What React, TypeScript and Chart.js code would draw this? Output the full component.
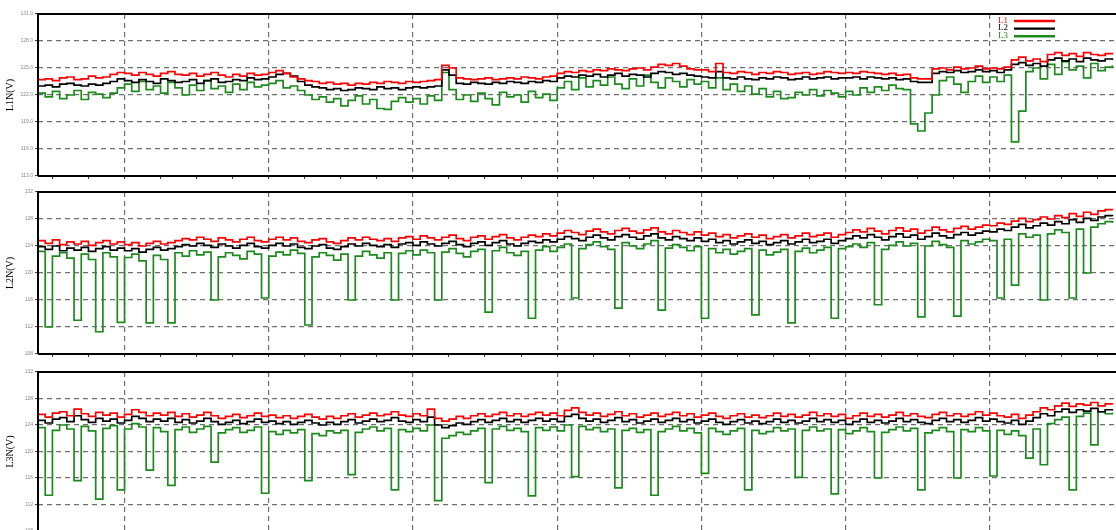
import React, { useEffect, useRef } from "react";
import { Chart, registerables } from "chart.js";

Chart.register(...registerables);

const LEGEND_LABELS = ["L1", "L2", "L3"];
const PANEL_TITLES = ["L1N(V)", "L2N(V)", "L3N(V)"];
const L1N_TICKS = [113, 116, 119, 122, 125, 128, 131];
const L2N_TICKS = [108, 112, 116, 120, 124, 128, 132];
const L3N_TICKS = [108, 112, 116, 120, 124, 128, 132];
const X_TICKS = [2, 7, 12, 17, 22, 27, 32, 37, 42, 47, 52, 57, 62, 67, 72, 77, 82, 87, 92, 97, 102, 107, 112, 117, 122, 127, 132, 137, 142, 147];
const X_MAJOR = [12, 32, 52, 72, 92, 112, 132];
const X_MAX = 149.5;

// ---------- L1N(V) ----------
const L1N_L1 = [
  123.7, 123.8, 123.6, 123.9, 124.0, 123.7, 123.8, 124.1, 123.9, 124.0, 124.3, 124.5,
  124.4, 124.2, 124.5, 124.3, 124.1, 124.4, 124.6, 124.3, 124.2, 124.4, 124.1, 124.3, 124.5, 124.2, 124.0, 124.3, 124.1, 124.4, 124.2, 124.3,
  124.5, 124.7, 124.4, 124.0, 123.8, 123.6, 123.5, 123.3, 123.4, 123.2, 123.3, 123.1, 123.3, 123.2, 123.4, 123.3, 123.5, 123.4, 123.3, 123.5,
  123.4, 123.5, 123.6, 123.7, 125.3, 125.0, 123.9, 123.8, 123.7, 123.8, 123.9, 123.7, 123.8, 123.9, 123.8, 124.0, 123.9, 123.8, 124.0, 124.1,
  124.4, 124.6, 124.5, 124.7, 124.6, 124.8, 124.7, 124.9, 124.8, 124.7, 124.9, 125.0, 124.8, 125.1, 125.4, 125.3, 125.5, 125.2, 124.9, 124.8,
  124.8, 124.6, 125.5, 124.5, 124.4, 124.6, 124.5, 124.3, 124.5, 124.4, 124.6, 124.5, 124.3, 124.4, 124.5, 124.3, 124.4, 124.6, 124.5, 124.4,
  124.5, 124.4, 124.6, 124.5, 124.4, 124.3, 124.4, 124.2, 124.3, 123.9, 123.8, 123.8, 124.9, 125.0, 124.8, 125.1, 124.9, 125.0, 125.2, 124.9,
  125.0, 124.9, 125.1, 125.9, 126.2, 125.8, 126.0, 125.7, 126.5, 126.7, 126.4, 126.6, 126.3, 126.7, 126.5, 126.4, 126.6, 126.5,
];
const L1N_L2 = [
  123.0, 123.1, 122.9, 123.2, 123.3, 123.1, 123.0, 123.2, 123.1, 123.3, 123.5, 123.8,
  123.6, 123.4, 123.7, 123.5, 123.3, 123.8, 123.6, 123.4, 123.5, 123.7, 123.3, 123.6, 123.8, 123.4, 123.5, 123.7, 123.6, 123.9, 123.7, 123.8,
  124.0, 124.3, 124.4, 124.1, 123.5, 123.1, 122.9, 122.8, 122.6, 122.7, 122.5, 122.6, 122.8, 122.7, 122.6, 122.9, 122.7, 122.8, 122.6, 122.8,
  122.9, 122.8, 122.9, 123.0, 124.8, 124.2, 123.3, 123.2, 123.4, 123.3, 123.2, 123.4, 123.3, 123.5, 123.4, 123.3, 123.5, 123.4, 123.6, 123.5,
  123.9, 124.1, 124.0, 124.2, 124.1, 124.3, 124.0, 124.2, 124.4, 124.1, 124.3, 124.2, 124.0, 124.4, 124.6, 124.5, 124.3, 124.4, 124.2, 124.1,
  124.0, 123.9, 124.6, 123.9, 123.8, 124.0, 123.8, 123.7, 123.9, 123.8, 124.0, 123.9, 123.7, 123.8, 124.0, 123.8, 123.9, 124.0, 123.8, 123.9,
  123.9, 124.0, 123.8, 124.0, 123.9, 123.8, 123.9, 123.7, 123.8, 123.5, 123.4, 123.4, 124.4, 124.6, 124.5, 124.7, 124.5, 124.6, 124.8, 124.6,
  124.7, 124.5, 124.8, 125.4, 125.6, 125.3, 125.5, 125.2, 125.9, 126.1, 125.8, 126.0, 125.7, 126.1, 125.9, 125.8, 126.0, 125.9,
];
const L1N_L3 = [
  122.2, 121.8, 122.4, 121.6, 122.0, 122.5, 121.5, 122.3, 122.1, 121.7, 122.2, 122.8,
  123.2, 122.4, 123.5, 122.6, 123.0, 122.2, 123.4, 122.8, 122.0, 123.1, 122.5, 123.6, 122.7, 123.0, 122.3, 123.2, 122.6, 123.4, 122.9, 123.1,
  123.3, 123.6, 122.8, 123.0, 122.5, 122.0, 121.5, 121.8, 121.2, 121.6, 120.8, 121.4, 121.9, 121.0, 121.5, 120.5, 120.4, 121.3, 121.7, 121.2,
  121.6, 121.0, 121.9, 121.4, 124.5, 122.6, 121.5, 122.0, 121.3, 122.2, 121.6, 120.9, 122.3, 121.8, 122.0, 121.2, 122.4, 121.7, 122.1, 121.4,
  122.8, 123.5, 122.6, 123.9, 122.9, 123.6, 123.1, 124.0, 123.2, 122.7, 123.8, 123.0, 124.2, 123.4, 122.8, 123.9, 123.5, 122.9, 123.7, 123.2,
  123.5, 122.8, 123.9, 122.6, 123.2, 122.4, 123.0, 122.1, 122.7, 121.8, 122.4, 121.6, 121.7, 122.3, 122.0, 122.6, 121.9, 122.5, 122.2, 121.8,
  122.4, 122.0, 122.8, 122.3, 122.9, 122.5, 123.1, 122.7, 122.6, 118.8, 118.0, 120.0, 122.0, 123.6, 124.0, 123.2, 122.3, 123.5, 124.1, 123.4,
  124.0, 123.5, 124.2, 116.8, 120.2, 124.6, 125.0, 123.8, 125.4, 124.3, 125.7, 124.8, 125.2, 123.9, 125.5, 124.7, 125.1, 125.3,
];

// ---------- L2N(V) ----------
const L2N_L1 = [
  124.8, 124.4, 124.9, 124.2, 124.6, 124.3, 124.7, 124.1, 124.5, 124.8, 124.3, 124.6,
  124.2, 124.5, 124.0, 124.4, 124.7, 124.3, 124.5, 124.8, 125.1, 124.9, 125.3, 125.0, 124.7, 125.2, 124.9, 124.6, 125.0, 125.3, 124.8, 124.6,
  125.0, 125.3, 124.9, 125.2, 124.7, 124.5, 124.9, 125.1, 124.6, 124.4, 124.8, 125.2, 124.9, 125.3, 125.0, 124.8, 125.1, 124.7, 125.2, 125.4,
  125.0, 125.5, 125.2, 124.9, 125.3, 125.6, 125.1, 124.8, 125.3, 125.5, 125.0, 125.4, 125.7, 125.2, 124.9, 125.3, 125.6, 125.4, 125.8, 125.5,
  125.9, 126.3, 126.0, 125.7, 126.2, 126.5, 126.1, 125.8, 126.3, 126.6, 126.2, 125.9, 126.4, 126.7, 126.1, 125.8, 126.3, 126.0, 125.7, 126.1,
  125.6, 125.9, 125.4, 125.7, 125.2, 125.5, 125.8, 125.3, 125.6, 125.1, 125.4, 125.7, 125.2, 125.5, 125.9, 125.4, 125.6, 125.9, 125.3, 125.7,
  126.0, 126.4, 126.1, 126.6, 126.2, 125.8, 126.3, 126.7, 126.2, 126.5, 125.9, 126.3, 126.8, 126.4, 126.1, 126.6, 126.9, 126.5, 126.8, 127.1,
  127.0, 127.4, 127.2, 127.7, 128.1, 127.6, 127.9, 128.3, 128.0, 128.5, 128.2, 128.8, 128.4, 129.0, 128.7, 129.2, 129.4, 129.3,
];
const L2N_L2 = [
  123.9, 123.5, 124.0, 123.3, 123.7, 123.4, 123.8, 123.2, 123.6, 123.9, 123.4, 123.7,
  123.3, 123.6, 123.1, 123.5, 123.8, 123.4, 123.6, 123.9, 124.2, 124.0, 124.4, 124.1, 123.8, 124.3, 124.0, 123.7, 124.1, 124.4, 123.9, 123.7,
  124.1, 124.4, 124.0, 124.3, 123.8, 123.6, 124.0, 124.2, 123.7, 123.5, 123.9, 124.3, 124.0, 124.4, 124.1, 123.9, 124.2, 123.8, 124.3, 124.5,
  124.1, 124.6, 124.3, 124.0, 124.4, 124.7, 124.2, 123.9, 124.4, 124.6, 124.1, 124.5, 124.8, 124.3, 124.0, 124.4, 124.7, 124.5, 124.9, 124.6,
  125.0, 125.4, 125.1, 124.8, 125.3, 125.6, 125.2, 124.9, 125.4, 125.7, 125.3, 125.0, 125.5, 125.8, 125.2, 124.9, 125.4, 125.1, 124.8, 125.2,
  124.7, 125.0, 124.5, 124.8, 124.3, 124.6, 124.9, 124.4, 124.7, 124.2, 124.5, 124.8, 124.3, 124.6, 125.0, 124.5, 124.7, 125.0, 124.4, 124.8,
  125.1, 125.5, 125.2, 125.7, 125.3, 124.9, 125.4, 125.8, 125.3, 125.6, 125.0, 125.4, 125.9, 125.5, 125.2, 125.7, 126.0, 125.6, 125.9, 126.2,
  126.1, 126.5, 126.3, 126.8, 127.2, 126.7, 127.0, 127.4, 127.1, 127.6, 127.3, 127.9, 127.5, 128.1, 127.8, 128.3, 128.5, 128.4,
];
const L2N_L3 = [
  123.2, 112.0, 122.5, 123.0, 122.2, 113.0, 122.8, 122.0, 111.3, 123.0, 122.4, 112.7,
  122.3, 122.8, 121.8, 112.6, 122.6, 122.0, 112.6, 123.0, 122.5, 123.3, 122.7, 123.1, 116.0, 122.4, 123.0, 122.6, 122.1, 123.2, 122.8, 116.3,
  122.5, 123.1, 122.7, 123.4, 122.9, 112.3, 122.4, 123.0, 122.6, 121.9, 122.8, 116.0, 122.5, 123.2, 122.7, 122.2, 123.0, 116.0, 122.9, 123.3,
  122.7, 123.4, 123.0, 116.0, 123.1, 123.6, 122.9, 122.4, 123.2, 123.5, 114.2, 123.3, 123.8, 123.0, 122.6, 123.2, 113.3, 123.4, 123.9, 123.2,
  123.8, 124.3, 116.3, 123.6, 124.2, 124.6, 123.9, 123.5, 114.8, 124.5, 124.0, 123.6, 124.3, 124.8, 114.5, 123.7, 124.2, 123.8, 123.3, 123.9,
  113.3, 123.6, 123.0, 123.5, 122.8, 123.2, 123.6, 113.8, 123.4, 122.7, 123.1, 123.5, 112.6, 123.2, 123.7, 123.0, 123.4, 123.8, 113.3, 123.6,
  123.9, 124.3, 123.8, 124.5, 115.3, 123.5, 124.1, 124.6, 124.0, 124.4, 113.5, 124.0, 124.7, 124.2, 123.8, 113.6, 124.8, 124.3, 124.6, 125.0,
  124.8, 116.3, 125.0, 118.2, 125.8, 125.3, 125.6, 116.0, 125.8, 126.4, 126.0, 116.3, 126.5, 120.0, 126.8, 127.3, 127.6, 127.4,
];

// ---------- L3N(V) ----------
const L3N_L1 = [
  125.6, 125.2, 125.8, 126.0, 125.4, 126.4, 125.7, 125.3, 125.9, 125.5, 125.8, 125.2,
  125.6, 126.3, 125.9, 125.4, 125.8, 125.5, 125.9, 125.3, 125.7, 125.2, 125.5, 125.9, 125.4, 125.0, 125.3, 125.6, 125.1, 125.4, 125.8, 125.3,
  125.5, 125.1, 125.4, 125.0, 125.3, 125.6, 125.2, 124.9, 125.3, 125.0, 125.4, 125.7, 125.2, 125.5, 125.8, 125.4, 125.6, 126.0, 125.5, 125.3,
  125.7, 125.4, 126.4, 125.0, 124.6, 124.9, 125.3, 125.0, 125.4, 125.7, 125.3, 125.6, 125.9, 125.4, 125.7, 125.3, 125.6, 125.9, 125.5, 125.8,
  125.4, 126.2, 126.6, 125.9, 125.5, 125.8, 125.3, 125.6, 126.0, 125.4, 125.7, 125.2, 125.5, 125.8, 125.3, 125.6, 125.9, 125.4, 125.7, 125.2,
  125.5, 125.8, 125.3, 125.0, 125.4, 125.7, 125.2, 125.5, 125.1, 125.4, 125.8, 125.3, 125.6, 125.2, 125.5, 125.9, 125.4, 125.7, 125.3, 125.6,
  125.0, 125.4, 125.8, 125.3, 125.6, 125.2, 125.5, 125.9, 125.4, 125.7, 125.3, 125.1, 125.6, 125.9, 125.4, 125.7, 125.3, 125.6, 126.0, 125.5,
  125.8, 125.4, 125.2, 125.6, 125.0, 125.5, 126.0, 126.6, 126.3, 126.9, 127.3, 126.8, 127.2, 127.0, 127.4, 126.9, 127.2, 127.1,
];
const L3N_L2 = [
  124.7, 124.3, 124.9, 125.1, 124.5, 125.4, 124.8, 124.4, 125.0, 124.6, 124.9, 124.3,
  124.7, 125.3, 125.0, 124.5, 124.9, 124.6, 125.0, 124.4, 124.8, 124.3, 124.6, 125.0, 124.5, 124.1, 124.4, 124.7, 124.2, 124.5, 124.9, 124.4,
  124.6, 124.2, 124.5, 124.1, 124.4, 124.7, 124.3, 124.0, 124.4, 124.1, 124.5, 124.8, 124.3, 124.6, 124.9, 124.5, 124.7, 125.1, 124.6, 124.4,
  124.8, 124.5, 125.2, 124.0, 123.6, 123.9, 124.3, 124.1, 124.5, 124.8, 124.4, 124.7, 125.0, 124.5, 124.8, 124.4, 124.7, 125.0, 124.6, 124.9,
  124.5, 125.3, 125.6, 125.0, 124.6, 124.9, 124.4, 124.7, 125.1, 124.5, 124.8, 124.3, 124.6, 124.9, 124.4, 124.7, 125.0, 124.5, 124.8, 124.3,
  124.6, 124.9, 124.4, 124.1, 124.5, 124.8, 124.3, 124.6, 124.2, 124.5, 124.9, 124.4, 124.7, 124.3, 124.6, 125.0, 124.5, 124.8, 124.4, 124.7,
  124.1, 124.5, 124.9, 124.4, 124.7, 124.3, 124.6, 125.0, 124.5, 124.8, 124.4, 124.2, 124.7, 125.0, 124.5, 124.8, 124.4, 124.7, 125.1, 124.6,
  124.9, 124.5, 124.3, 124.7, 124.1, 124.6, 125.1, 125.7, 125.4, 126.0, 126.4, 125.9, 126.3, 126.1, 126.5, 126.0, 126.3, 126.2,
];
const L3N_L3 = [
  123.6, 113.4, 123.2, 124.0, 123.4, 115.6, 123.8, 123.1, 112.8, 123.5, 123.9, 114.2,
  123.4, 124.2, 123.7, 117.2, 123.6, 123.0, 114.9, 123.3, 123.7, 122.9, 123.4, 123.8, 118.4, 122.8, 123.3, 123.6, 122.9, 123.2, 123.7, 113.7,
  123.0, 122.6, 123.2, 122.8, 123.3, 115.6, 122.7, 122.4, 123.1, 122.8, 123.2, 116.5, 122.9, 123.4, 123.7, 123.1, 123.5, 114.2, 123.3, 123.0,
  123.5, 123.1, 124.0, 112.6, 122.0, 122.4, 122.9, 122.6, 123.1, 123.5, 115.3, 123.4, 123.8, 123.2, 123.5, 123.0, 113.3, 123.6, 123.2, 123.7,
  123.1, 124.0, 116.2, 123.8, 123.3, 123.6, 123.0, 123.4, 114.5, 123.2, 123.5, 122.9, 123.3, 113.4, 123.0, 123.4, 123.8, 123.1, 123.5, 122.8,
  116.7, 123.5, 123.0, 122.6, 123.1, 123.5, 114.2, 123.2, 122.7, 123.0, 123.6, 123.1, 123.4, 116.1, 123.2, 123.7, 123.1, 123.4, 113.6, 123.3,
  122.7, 123.1, 123.6, 123.0, 116.0, 122.9, 123.3, 123.7, 123.1, 123.5, 114.2, 122.8, 123.2, 123.6, 123.0, 116.0, 123.3, 123.0, 123.6, 123.1,
  116.3, 123.2, 122.6, 123.1, 122.4, 119.0, 123.4, 118.0, 124.2, 124.8, 125.2, 114.2, 125.3, 125.8, 121.0, 126.0, 125.7, 125.9,
];

const COLORS = ["#ff0000", "#000000", "#1c8a1c"];
const GRID_COLOR = "#6f6f6f";

type PanelSpec = {
  title: string;
  ticks: number[];
  decimals: number;
  series: number[][];
  top: number;
  height: number;
  padTop: number;
  axisH: number;
  legend: boolean;
};

const PANELS: PanelSpec[] = [
  { title: PANEL_TITLES[0], ticks: L1N_TICKS, decimals: 1, series: [L1N_L1, L1N_L2, L1N_L3], top: 0, height: 181, padTop: 14, axisH: 4, legend: true },
  { title: PANEL_TITLES[1], ticks: L2N_TICKS, decimals: 0, series: [L2N_L1, L2N_L2, L2N_L3], top: 181, height: 178, padTop: 11, axisH: 4, legend: false },
  { title: PANEL_TITLES[2], ticks: L3N_TICKS, decimals: 0, series: [L3N_L1, L3N_L2, L3N_L3], top: 359, height: 190, padTop: 13, axisH: 18, legend: false },
];

function Panel({ spec }: { spec: PanelSpec }) {
  const ref = useRef<HTMLCanvasElement>(null);

  useEffect(() => {
    const canvas = ref.current;
    if (!canvas) return;
    const min = spec.ticks[0];
    const max = spec.ticks[spec.ticks.length - 1];

    const framePlugin = {
      id: "frame",
      afterDraw(chart: any) {
        const { ctx, chartArea: a } = chart;
        ctx.save();
        ctx.strokeStyle = "#000";
        ctx.lineWidth = 2;
        ctx.setLineDash([]);
        ctx.beginPath();
        ctx.moveTo(a.left, a.bottom);
        ctx.lineTo(a.left, a.top);
        ctx.lineTo(a.right, a.top);
        ctx.moveTo(a.left, a.bottom);
        ctx.lineTo(a.right, a.bottom);
        ctx.stroke();
        ctx.restore();
      },
    };

    const legendPlugin = {
      id: "cornerLegend",
      afterDraw(chart: any) {
        const { ctx } = chart;
        ctx.save();
        ctx.font = '9px "Liberation Serif", serif';
        ctx.textBaseline = "middle";
        ctx.textAlign = "left";
        LEGEND_LABELS.forEach((lab, k) => {
          const y = 20.5 + k * 7.6;
          ctx.fillStyle = COLORS[k];
          ctx.fillText(lab, 998, y);
          ctx.strokeStyle = COLORS[k];
          ctx.lineWidth = 2.4;
          ctx.beginPath();
          ctx.moveTo(1014, y + 0.5);
          ctx.lineTo(1055, y + 0.5);
          ctx.stroke();
        });
        ctx.restore();
      },
    };

    const chart = new Chart(canvas, {
      type: "line",
      data: {
        datasets: spec.series.map((vals, k) => ({
          label: LEGEND_LABELS[k],
          data: vals.map((y, i) => ({ x: i, y })),
          borderColor: COLORS[k],
          backgroundColor: COLORS[k],
          borderWidth: 1.7,
          pointRadius: 0,
          stepped: true,
          fill: false,
        })),
      },
      options: {
        animation: false,
        responsive: false,
        events: [],
        layout: { padding: { top: spec.padTop, left: 0, right: 0, bottom: 0 } },
        plugins: { legend: { display: false }, tooltip: { enabled: false } },
        scales: {
          x: {
            type: "linear",
            min: 0,
            max: X_MAX,
            afterBuildTicks: (s: any) => {
              s.ticks = X_TICKS.map((v) => ({ value: v }));
            },
            afterFit: (s: any) => {
              s.height = spec.axisH;
            },
            ticks: { display: false },
            grid: {
              color: (c: any) => (c.tick && X_MAJOR.includes(c.tick.value) ? GRID_COLOR : "rgba(0,0,0,0)"),
              lineWidth: 1.2,
              drawTicks: true,
              tickLength: 3,
              tickColor: "#333",
              tickWidth: 1,
            },
            border: { display: false, dash: [5, 4] },
          },
          y: {
            type: "linear",
            min,
            max,
            afterBuildTicks: (s: any) => {
              s.ticks = spec.ticks.map((v) => ({ value: v }));
            },
            afterFit: (s: any) => {
              s.width = 38;
            },
            ticks: {
              font: { size: 5, family: "Liberation Sans" },
              color: "#8a8a8a",
              padding: 2,
              callback: (v: any) => Number(v).toFixed(spec.decimals),
            },
            grid: {
              color: (c: any) =>
                c.tick && (c.tick.value === min || c.tick.value === max) ? "rgba(0,0,0,0)" : GRID_COLOR,
              lineWidth: 1.2,
              tickLength: 3,
              tickColor: "#333",
              tickWidth: 1,
            },
            border: { display: false, dash: [5, 4] },
            title: {
              display: true,
              text: spec.title,
              font: { family: "Liberation Serif", size: 10 },
              color: "#000",
              padding: { top: 4, bottom: 0 },
            },
          },
        },
      },
      plugins: spec.legend ? [framePlugin, legendPlugin] : [framePlugin],
    } as any);

    return () => chart.destroy();
  }, [spec]);

  return (
    <canvas
      ref={ref}
      width={1116}
      height={spec.height}
      style={{ position: "absolute", left: 0, top: spec.top, width: 1116, height: spec.height }}
    />
  );
}

export default function App() {
  return (
    <div
      style={{
        position: "absolute",
        left: 0,
        top: 0,
        width: 1116,
        height: 530,
        overflow: "hidden",
        background: "#ffffff",
      }}
    >
      {PANELS.map((p) => (
        <Panel key={p.title} spec={p} />
      ))}
    </div>
  );
}
